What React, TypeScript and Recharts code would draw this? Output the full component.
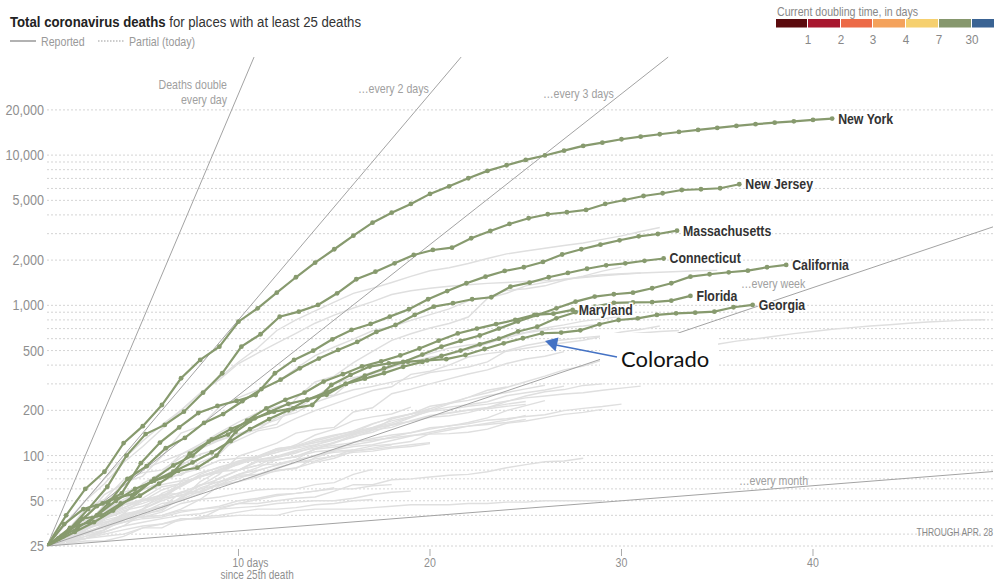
import React from 'react';
import { LineChart, Line, XAxis, YAxis, ReferenceLine } from 'recharts';

const FONT = "'Liberation Sans', Arial, sans-serif";
const GREEN = '#879a6e';
const GRAY_LINE = '#dfdfdf';
const REF_GRAY = '#a3a3a3';

const X_MAX = 49.4;
const Y_MIN = 25;
const Y_MAX = 45000;

const xTicks = [10, 20, 30, 40];
const yTicks = [25, 50, 100, 200, 500, 1000, 2000, 5000, 10000, 20000];
const gridValues = [
  25, 30, 40, 50, 60, 70, 80, 90, 100, 200, 300, 400, 500, 600, 700, 800, 900,
  1000, 2000, 3000, 4000, 5000, 6000, 7000, 8000, 9000, 10000, 20000,
];
const doublingDays = [1, 2, 3, 7, 30];

const legendBreaks = ['1', '2', '3', '4', '7', '30'];
const legendColors = ['#5b0a0d', '#a8172f', '#ec6a47', '#f4a25c', '#f6d06f', '#86976d', '#3a6393'];

// highlighted places (deaths by day since 25th death)
const newYork = [25, 40, 60, 78, 121, 157, 217, 327, 433, 531, 778, 956, 1214, 1538, 1922, 2362, 2910, 3550, 4140, 4730, 5520, 6200, 7015, 7850, 8565, 9290, 9950, 10710, 11510, 12100, 12750, 13270, 13770, 14260, 14710, 15170, 15640, 16060, 16450, 16800, 17150, 17500];
const newJersey = [25, 32, 44, 62, 100, 139, 160, 196, 262, 353, 531, 642, 841, 908, 1006, 1203, 1492, 1675, 1905, 2165, 2337, 2420, 2797, 3125, 3482, 3800, 4040, 4165, 4315, 4730, 5030, 5345, 5573, 5860, 5925, 6018, 6400];
const massachusetts = [25, 35, 44, 48, 56, 89, 122, 154, 192, 214, 231, 253, 353, 433, 499, 594, 686, 752, 841, 942, 1098, 1245, 1403, 1552, 1694, 1793, 1945, 2180, 2362, 2535, 2710, 2880, 2986, 3140];
const connecticut = [25, 33, 36, 48, 70, 85, 112, 131, 165, 189, 230, 277, 320, 381, 442, 505, 571, 665, 740, 863, 980, 1033, 1098, 1132, 1331, 1416, 1538, 1643, 1752, 1848, 1905, 1980, 2051];
const california = [25, 28, 33, 40, 50, 60, 68, 78, 90, 105, 125, 150, 175, 200, 235, 265, 300, 340, 380, 420, 470, 530, 580, 630, 700, 780, 863, 956, 1058, 1143, 1185, 1214, 1300, 1403, 1552, 1610, 1660, 1702, 1793, 1857];
const florida = [25, 28, 35, 46, 52, 56, 70, 86, 100, 128, 150, 170, 195, 221, 236, 254, 300, 325, 354, 390, 420, 460, 500, 550, 600, 670, 720, 820, 900, 980, 1040, 1045, 1050, 1074, 1155];
const maryland = [25, 31, 36, 43, 53, 67, 74, 103, 124, 138, 171, 206, 235, 262, 311, 348, 392, 424, 464, 516, 582, 650, 700, 750, 800, 863, 880, 932];
const georgia = [25, 29, 38, 40, 48, 54, 65, 79, 83, 100, 144, 177, 196, 206, 217, 295, 344, 391, 411, 422, 430, 438, 467, 512, 559, 604, 652, 659, 682, 748, 799, 820, 863, 885, 894, 908, 971, 1006];

// other places, drawn in gray
const michigan = [25, 35, 50, 65, 90, 115, 150, 200, 260, 330, 420, 520, 680, 800, 920, 1050, 1200, 1300, 1420, 1560, 1700, 1780, 1900, 2050, 2200, 2300, 2400, 2500, 2600, 2750, 2900, 3100, 3300];
const louisiana = [25, 36, 50, 70, 95, 125, 160, 200, 260, 320, 410, 480, 560, 650, 760, 860, 960, 1060, 1180, 1250, 1300, 1340, 1370, 1400, 1420, 1440, 1460, 1490, 1530, 1570, 1610, 1640, 1660, 1680, 1700, 1710];
const illinois = [25, 30, 34, 47, 66, 73, 99, 141, 157, 210, 243, 274, 307, 380, 462, 528, 596, 677, 720, 794, 868, 948, 1072, 1134, 1259, 1290, 1349, 1468, 1565, 1688, 1795];
const pennsylvania = [25, 27, 34, 38, 49, 63, 73, 74, 90, 102, 136, 150, 162, 240, 309, 338, 416, 494, 584, 647, 707, 757, 836, 1112, 1204, 1348, 1421, 1492, 1550, 1597, 1622, 1640];
const washington = [25, 30, 32, 37, 40, 42, 48, 50, 56, 66, 75, 83, 94, 98, 110, 123, 132, 147, 175, 189, 205, 224, 244, 262, 284, 310, 338, 372, 394, 432, 446, 465, 491, 506, 529, 551, 578, 599, 622, 648, 670, 693, 711, 729, 742, 760, 774, 785, 797, 801];
const indiana = [25, 26, 32, 43, 49, 65, 77, 102, 116, 127, 139, 157, 173, 203, 245, 300, 330, 350, 387, 436, 477, 519, 545, 562, 630, 661, 706, 741, 785, 813, 844];
const ohio = [25, 29, 39, 55, 65, 81, 91, 102, 119, 142, 167, 193, 211, 227, 247, 253, 324, 361, 389, 418, 451, 471, 509, 557, 610, 656, 685, 711, 728, 753];
const texas = [25, 28, 34, 41, 57, 62, 72, 86, 102, 111, 127, 146, 154, 177, 199, 221, 245, 271, 287, 347, 364, 400, 453, 477, 495, 518, 543, 564, 586, 623, 664, 691, 729];
const colorado = [25, 31, 44, 51, 69, 77, 80, 97, 111, 126, 140, 150, 179, 193, 226, 250, 274, 289, 308, 328, 357, 372, 389, 420, 500, 540, 570, 590, 610, 625, 640, 655, 670, 680];
const virginia = [25, 27, 34, 41, 45, 51, 52, 54, 63, 75, 99, 109, 121, 141, 149, 154, 195, 208, 258, 277, 300, 324, 349, 372, 410, 439, 458, 492];
const minnesota = [25, 28, 30, 34, 39, 44, 50, 55, 57, 64, 70, 79, 87, 94, 111, 121, 134, 143, 160, 179, 199, 221, 244, 272, 286];
const missouri = [25, 31, 34, 39, 44, 48, 53, 62, 73, 77, 88, 96, 109, 114, 125, 135, 146, 163, 177, 189, 199, 210, 218, 228, 250, 262, 273, 290];
const arizona = [25, 27, 29, 32, 41, 52, 62, 65, 73, 80, 89, 97, 108, 115, 122, 131, 142, 150, 162, 169, 180, 184, 193, 208, 229, 249, 266, 275, 293, 300];
const wisconsin = [25, 31, 33, 38, 47, 56, 64, 68, 77, 83, 92, 99, 111, 116, 128, 137, 144, 154, 170, 182, 197, 203, 213, 220, 230, 242, 249, 257, 262, 272, 281, 290];
const mississippi = [25, 29, 35, 43, 51, 59, 67, 76, 82, 93, 96, 98, 111, 115, 122, 129, 140, 152, 159, 169, 183, 193, 201, 209, 220, 229];
const nevada = [25, 26, 32, 38, 43, 46, 52, 57, 58, 71, 80, 86, 98, 106, 112, 117, 122, 130, 137, 142, 150, 158, 163, 172, 176, 182, 187, 199, 206, 212, 220];
const alabama = [25, 26, 28, 32, 38, 43, 45, 57, 63, 70, 80, 91, 93, 99, 110, 114, 118, 124, 133, 142, 153, 157, 166, 178, 199, 215, 232];
const kentucky = [25, 31, 37, 40, 45, 50, 59, 65, 73, 77, 90, 94, 97, 104, 115, 122, 137, 148, 154, 171, 185, 191, 200, 205, 213, 219];
const rhodeIsland = [25, 27, 30, 35, 40, 44, 56, 63, 73, 80, 87, 97, 105, 118, 137, 150, 171, 181, 189, 210];
const southCarolina = [25, 26, 31, 34, 38, 39, 40, 44, 51, 63, 67, 72, 80, 82, 97, 107, 109, 116, 119, 124, 140, 148, 157, 161, 166, 174];
const iowa = [25, 26, 29, 31, 34, 41, 43, 53, 60, 64, 74, 75, 79, 83, 90, 96, 107, 112, 118];
const oklahoma = [25, 27, 30, 34, 38, 42, 46, 51, 67, 79, 80, 86, 88, 94, 99, 108, 123, 127, 131, 136, 139, 140, 143, 150, 164, 170, 179, 188, 194, 203];
const oregon = [25, 26, 27, 27, 29, 33, 33, 38, 38, 44, 48, 48, 50, 52, 53, 58, 64, 64, 69, 70, 72, 74, 75, 78, 83, 87, 91, 92, 96];
const delaware = [25, 28, 33, 35, 41, 43, 46, 52, 61, 67, 72, 75, 82, 90, 92, 100, 105, 107, 112, 115, 120];
const tennessee = [25, 27, 30, 32, 37, 44, 51, 64, 72, 79, 80, 93, 94, 98, 106, 109, 115, 118, 126, 135, 143, 152, 157, 164, 172, 185];
const northCarolina = [25, 29, 33, 38, 47, 51, 54, 63, 75, 84, 90, 94, 99, 108, 117, 131, 142, 162, 179, 189, 213, 223, 233, 250, 263, 278, 294];
const kansas = [25, 27, 32, 38, 42, 50, 55, 56, 64, 67, 75, 80, 86, 93, 100, 105, 107, 110, 114, 118, 122];
const newMexico = [25, 26, 31, 34, 36, 40, 44, 51, 58, 64, 67, 74, 83, 90, 95, 99, 110];
const districtOfColumbia = [25, 27, 32, 38, 47, 50, 52, 67, 72, 81, 91, 97, 105, 112, 118, 127, 139, 153, 165, 181, 205];
const newHampshire = [25, 29, 32, 36, 38, 39, 42, 48, 51, 53, 56, 59, 60, 60, 64, 66, 75, 81];
const nebraska = [25, 28, 31, 33, 36, 38, 39, 42, 44, 46, 50, 52, 55, 56, 58, 61];
const idaho = [25, 27, 33, 36, 39, 39, 40, 43, 44, 45, 48, 51, 54, 56, 58, 60, 60, 63, 64];
const vermont = [25, 27, 28, 29, 30, 33, 35, 38, 38, 39, 40, 40, 40, 43, 44, 44, 44, 45, 46, 47, 47, 47, 48, 48, 49, 49, 50, 50, 50, 50];
const utah = [25, 27, 28, 31, 34, 36, 38, 40, 41, 44, 45, 46, 48, 49, 50, 50, 52, 55, 57, 58];
const maine = [25, 27, 28, 30, 32, 34, 35, 37, 39, 40, 42, 44, 44, 45, 47, 48, 50, 51];

const highlighted = [
  { name: 'New York', values: newYork, shift: 0 },
  { name: 'New Jersey', values: newJersey, shift: 0.15 },
  { name: 'Massachusetts', values: massachusetts, shift: -0.1 },
  { name: 'Connecticut', values: connecticut, shift: 0.2 },
  { name: 'California', values: california, shift: -0.4 },
  { name: 'Florida', values: florida, shift: -0.4 },
  { name: 'Maryland', values: maryland, shift: 0.45 },
  { name: 'Georgia', values: georgia, shift: -0.15 },
];

const grayPlaces = [
  michigan, louisiana, illinois, pennsylvania, washington, indiana, ohio, texas, colorado,
  virginia, minnesota, missouri, arizona, wisconsin, mississippi, nevada, alabama, kentucky,
  rhodeIsland, southCarolina, iowa, oklahoma, oregon, delaware, tennessee, northCarolina,
  kansas, newMexico, districtOfColumbia, newHampshire, nebraska, idaho, vermont, utah, maine,
];

const toPoints = (values: number[], shift = 0) =>
  values.map((y, i) => ({ x: i === 0 ? 0 : i + shift, y }));

// end point of a doubling reference line inside the plot
const doublingSegment = (d: number) => {
  const xEnd = Math.min(X_MAX, d * Math.log2(Y_MAX / Y_MIN) * 0.9999);
  return [
    { x: 0, y: Y_MIN },
    { x: xEnd, y: Y_MIN * Math.pow(2, xEnd / d) },
  ];
};

// narrow text: the original face is condensed, so squeeze a regular one
const NText = ({ x, y, size, fill, weight = 400, anchor = 'start', sx = 0.85, children, halo = false }: any) => (
  <text
    transform={`translate(${x},${y}) scale(${sx},1)`}
    textAnchor={anchor}
    fontFamily={FONT}
    fontSize={size}
    fontWeight={weight}
    fill={fill}
    stroke={halo ? '#fff' : undefined}
    strokeWidth={halo ? 3 : undefined}
    paintOrder="stroke"
  >
    {children}
  </text>
);

const YTick = (props: any) => {
  const { x, y, payload } = props;
  return (
    <NText x={x} y={y + 5} anchor="end" size={14} fill="#8f8f8f" sx={0.9}>
      {payload.value.toLocaleString('en-US')}
    </NText>
  );
};

const XTick = (props: any) => {
  const { x, y, payload } = props;
  return (
    <g>
      <line x1={x} x2={x} y1={y + 3} y2={y + 10} stroke="#aaa" strokeWidth={1} />
      {payload.value === 10 ? (
        <>
          <NText x={x - 6} y={y + 21} size={12.5} fill="#8f8f8f" sx={0.82}>10 days</NText>
          <NText x={x - 18} y={y + 33} size={12.5} fill="#8f8f8f" sx={0.8}>since 25th death</NText>
        </>
      ) : (
        <NText x={x} y={y + 21} anchor="middle" size={12.5} fill="#8f8f8f" sx={0.85}>
          {payload.value}
        </NText>
      )}
    </g>
  );
};

const endLabel = (name: string, last: number) => (p: any) =>
  p.index === last ? (
    <NText key={name} x={p.x + 6} y={p.y + 5} size={14.5} weight={700} fill="#333" sx={0.85} halo>
      {name}
    </NText>
  ) : null;

const anno = { size: 12.5, fill: '#a0a0a0', sx: 0.85 };

export default function App() {
  return (
    <div style={{ position: 'absolute', left: 0, top: 0, width: 995, height: 581, background: '#fff', overflow: 'hidden' }}>
      <LineChart width={995} height={581} margin={{ top: 57, right: 2, bottom: 0, left: 0 }}>
        <XAxis
          type="number"
          dataKey="x"
          domain={[0, X_MAX]}
          allowDataOverflow
          ticks={xTicks}
          tick={<XTick />}
          tickSize={0}
          tickMargin={0}
          axisLine={false}
          tickLine={false}
          height={35}
        />
        <YAxis
          type="number"
          dataKey="y"
          scale="log"
          domain={[Y_MIN, Y_MAX]}
          allowDataOverflow
          ticks={yTicks}
          tick={<YTick />}
          tickSize={0}
          tickMargin={3}
          axisLine={false}
          tickLine={false}
          width={47}
        />
        {gridValues.map((v) => (
          <ReferenceLine key={'g' + v} y={v} stroke="#d4d4d4" strokeDasharray="2 2" ifOverflow="visible" />
        ))}
        {grayPlaces.map((vals, i) => (
          <Line
            key={'gray' + i}
            data={toPoints(vals)}
            dataKey="y"
            type="linear"
            stroke={GRAY_LINE}
            strokeWidth={1.4}
            dot={false}
            activeDot={false}
            isAnimationActive={false}
          />
        ))}
        {doublingDays.map((d) => (
          <ReferenceLine key={'d' + d} segment={doublingSegment(d)} stroke={REF_GRAY} strokeWidth={1} ifOverflow="visible" />
        ))}
        {highlighted.map((s) => (
          <Line
            key={s.name}
            data={toPoints(s.values, s.shift)}
            dataKey="y"
            type="linear"
            stroke={GREEN}
            strokeWidth={2.2}
            dot={{ r: 2.4, fill: GREEN, stroke: GREEN, strokeWidth: 0 }}
            activeDot={false}
            isAnimationActive={false}
            label={endLabel(s.name, s.values.length - 1)}
          />
        ))}
      </LineChart>

      <svg width={995} height={581} style={{ position: 'absolute', left: 0, top: 0, pointerEvents: 'none' }}>
        {/* title */}
        <text transform="translate(10,27) scale(0.85,1)" fontFamily={FONT} fontSize={15.5} fill="#333">
          <tspan fontWeight={700} fill="#222">Total coronavirus deaths</tspan>
          <tspan> for places with at least 25 deaths</tspan>
        </text>
        <line x1={10} x2={36} y1={41} y2={41} stroke="#999" strokeWidth={1.5} />
        <NText x={41} y={45.5} size={12.5} fill="#999">Reported</NText>
        <line x1={98} x2={124} y1={41} y2={41} stroke="#999" strokeWidth={1.2} strokeDasharray="1.5 1.5" />
        <NText x={129} y={45.5} size={12.5} fill="#999">Partial (today)</NText>

        {/* doubling-time legend */}
        <NText x={777} y={15.5} size={12.5} fill="#888">Current doubling time, in days</NText>
        {legendColors.map((c, i) => {
          const edges = [776, 808, 841, 873, 906, 939, 972, 995];
          return <rect key={c} x={edges[i]} y={19} width={edges[i + 1] - edges[i] - 1} height={8.5} fill={c} />;
        })}
        {legendBreaks.map((t, i) => (
          <NText key={t} x={[808, 841, 873, 906, 939, 972][i]} y={44} anchor="middle" size={13} fill="#888" sx={0.9}>
            {t}
          </NText>
        ))}

        {/* doubling line labels */}
        <NText x={227} y={88.5} anchor="end" {...anno}>Deaths double</NText>
        <NText x={227} y={103.5} anchor="end" {...anno}>every day</NText>
        <NText x={358} y={92.5} {...anno}>…every 2 days</NText>
        <NText x={543} y={97.5} {...anno}>…every 3 days</NText>
        <NText x={741} y={287.5} {...anno}>…every week</NText>
        <NText x={739} y={484.5} {...anno}>…every month</NText>
        <NText x={993} y={535.5} anchor="end" size={10} fill="#888">THROUGH APR. 28</NText>

        {/* Colorado callout */}
        <rect x={600} y={333} width={118} height={45} fill="#fff" />
        <text x={621} y={367} fontFamily="Lato, 'Open Sans', sans-serif" fontSize={22} fill="#111">Colorado</text>
        <line x1={617} y1={357} x2={556} y2={345} stroke="#4472c4" strokeWidth={1.6} />
        <polygon points="545,341 558.5,337.5 555.5,351.5" fill="#4472c4" />
      </svg>
    </div>
  );
}
